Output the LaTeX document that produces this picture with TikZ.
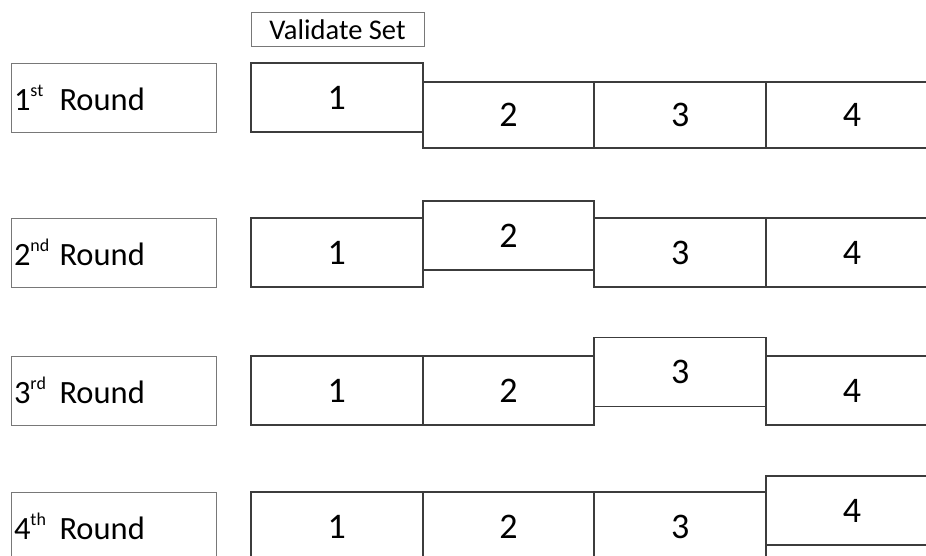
\documentclass[tikz,border=0pt]{standalone}
\usepackage{fontspec}
\setmainfont{Carlito}
\definecolor{cellline}{RGB}{60,60,60}
\definecolor{labline}{RGB}{120,120,120}
\newcommand{\roundtxt}[2]{\makebox[45.5pt][l]{#1\raisebox{14pt}{\fontsize{18}{18}\selectfont #2}}Round}
\begin{document}
\begin{tikzpicture}[x=1pt,y=-1pt,
  cell/.style={draw=cellline, line width=1.9pt, fill=white, minimum width=171.7pt,
    minimum height=69pt, inner sep=0pt, outer sep=0pt, anchor=north west,
    font=\fontsize{36}{40}\selectfont},
  roundlab/.style={draw=labline, line width=1pt, minimum width=205pt, minimum height=69pt,
    text width=199pt, inner xsep=3pt, inner ysep=0pt, outer sep=0pt, align=left,
    anchor=north west, font=\fontsize{32.5}{36}\selectfont},
  vsbox/.style={draw=labline, line width=1pt, minimum width=173pt, minimum height=34pt,
    inner sep=0pt, outer sep=0pt, anchor=north west, font=\fontsize{28.5}{32}\selectfont}
]
\useasboundingbox (0,0) rectangle (926,555);
\clip (0,0) rectangle (926,555);

\node[vsbox] (vs) at (251,12.5) {Validate Set};

% Round 1
\node[roundlab] (r1) at (11,63) {\roundtxt{1}{st}};
\node[cell, minimum height=66pt] (r1c2) at (422.7,82) {2};
\node[cell, minimum height=66pt] (r1c3) at (594.4,82) {3};
\node[cell, minimum height=66pt] (r1c4) at (766.1,82) {4};
\node[cell] (r1c1) at (251,63) {1};

% Round 2
\node[roundlab] (r2) at (11,218) {\roundtxt{2}{nd}};
\node[cell] (r2c1) at (251,218) {1};
\node[cell] (r2c3) at (594.4,218) {3};
\node[cell] (r2c4) at (766.1,218) {4};
\node[cell] (r2c2) at (422.7,201) {2};

% Round 3
\node[roundlab] (r3) at (11,356) {\roundtxt{3}{rd}};
\node[cell] (r3c1) at (251,356) {1};
\node[cell] (r3c2) at (422.7,356) {2};
\node[cell] (r3c4) at (766.1,356) {4};
\node[cell] (r3c3) at (594.4,337.5) {3};

% Round 4
\node[roundlab] (r4) at (11,492) {\roundtxt{4}{th}};
\node[cell] (r4c1) at (251,492) {1};
\node[cell] (r4c2) at (422.7,492) {2};
\node[cell] (r4c3) at (594.4,492) {3};
\node[cell] (r4c4) at (766.1,476) {4};
\end{tikzpicture}
\end{document}
